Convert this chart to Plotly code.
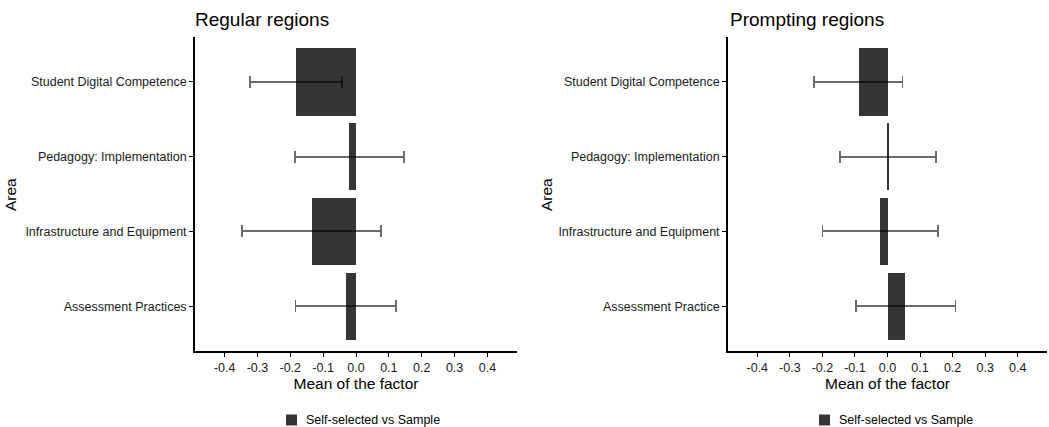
import plotly.graph_objects as go

# Regular regions: factor means with confidence limits
areas_regular = ["Assessment Practices", "Infrastructure and Equipment",
                 "Pedagogy: Implementation", "Student Digital Competence"]
mean_regular = [-0.031, -0.135, -0.020, -0.183]
ci_low_regular = [-0.184, -0.348, -0.185, -0.322]
ci_high_regular = [0.121, 0.077, 0.145, -0.043]

# Prompting regions: factor means with confidence limits
areas_prompting = ["Assessment Practice", "Infrastructure and Equipment",
                   "Pedagogy: Implementation", "Student Digital Competence"]
mean_prompting = [0.055, -0.022, 0.003, -0.088]
ci_low_prompting = [-0.098, -0.200, -0.147, -0.226]
ci_high_prompting = [0.209, 0.155, 0.150, 0.046]

x_ticks = [-0.4, -0.3, -0.2, -0.1, 0.0, 0.1, 0.2, 0.3, 0.4]
x_tick_labels = ["-0.4", "-0.3", "-0.2", "-0.1", "0.0", "0.1", "0.2", "0.3", "0.4"]
series_name = "Self-selected vs Sample"
panel_titles = ["Regular regions", "Prompting regions"]

W, H = 1049, 427
FONT = "Liberation Sans, Arial, sans-serif"
BAR = "#353535"
ERR = "rgba(0,0,0,0.58)"
TXT = "#1a1a1a"


def px_x(p):
    return p / W


def px_y(p):
    return 1 - p / H


def bar_trace(areas, means, lo, hi, xa, ya):
    plus = [h - m for h, m in zip(hi, means)]
    minus = [m - l for m, l in zip(means, lo)]
    return go.Bar(
        y=areas, x=means, orientation="h", width=0.9,
        marker=dict(color=BAR, line=dict(width=0)),
        error_x=dict(type="data", symmetric=False, array=plus, arrayminus=minus,
                     color=ERR, thickness=1.8, width=6),
        name=series_name, xaxis=xa, yaxis=ya, showlegend=False,
    )


fig = go.Figure()
fig.add_trace(bar_trace(areas_regular, mean_regular, ci_low_regular,
                        ci_high_regular, "x", "y"))
fig.add_trace(bar_trace(areas_prompting, mean_prompting, ci_low_prompting,
                        ci_high_prompting, "x2", "y2"))

y_dom = [px_y(351), px_y(37)]
x_common = dict(
    range=[-0.49, 0.49], tickvals=x_ticks, ticktext=x_tick_labels,
    showline=True, linecolor="black", linewidth=1.8, mirror=False,
    ticks="outside", ticklen=4, tickcolor="black", tickwidth=1.2,
    showgrid=False, zeroline=False, automargin=False,
    tickfont=dict(family=FONT, size=12.5, color=TXT),
    title=dict(text="Mean of the factor", standoff=0,
               font=dict(family=FONT, size=15.5, color="black")),
)
y_common = dict(
    type="category", range=[-0.6, 3.6],
    showline=True, linecolor="black", linewidth=1.8,
    ticks="outside", ticklen=4, tickcolor="black", tickwidth=1.2,
    showgrid=False, zeroline=False, automargin=False,
    tickfont=dict(family=FONT, size=12.5, color=TXT),
)

fig.update_layout(
    width=W, height=H,
    margin=dict(l=0, r=0, t=0, b=0),
    paper_bgcolor="white", plot_bgcolor="white",
    font=dict(family=FONT, color="black"),
    bargap=0, showlegend=False,
    xaxis=dict(domain=[px_x(195), px_x(517)], anchor="y", **x_common),
    yaxis=dict(domain=y_dom, anchor="x", categoryorder="array",
               categoryarray=areas_regular, **y_common),
    xaxis2=dict(domain=[px_x(728), px_x(1047)], anchor="y2", **x_common),
    yaxis2=dict(domain=y_dom, anchor="x2", categoryorder="array",
                categoryarray=areas_prompting, **y_common),
)

# Panel titles
for title, x0 in zip(panel_titles, [193, 728]):
    fig.add_annotation(text=title, x=px_x(x0), y=px_y(19), xref="paper", yref="paper",
                       xanchor="left", yanchor="middle", showarrow=False,
                       font=dict(family=FONT, size=19, color="black"))

# Y axis titles
for x0 in [10, 546]:
    fig.add_annotation(text="Area", x=px_x(x0), y=px_y(195), xref="paper", yref="paper",
                       xanchor="center", yanchor="middle", textangle=-90, showarrow=False,
                       font=dict(family=FONT, size=15.5, color="black"))

# Legend key below each panel
for sq_left, text_left in [(286, 304), (819, 837)]:
    fig.add_shape(type="rect", xref="paper", yref="paper",
                  x0=px_x(sq_left), x1=px_x(sq_left + 11),
                  y0=px_y(425.5), y1=px_y(414.5),
                  fillcolor=BAR, line=dict(width=0))
    fig.add_annotation(text=series_name, x=px_x(text_left), y=px_y(420),
                       xref="paper", yref="paper", xanchor="left", yanchor="middle",
                       showarrow=False, font=dict(family=FONT, size=12.5, color="black"))

fig.write_html("out.html")
